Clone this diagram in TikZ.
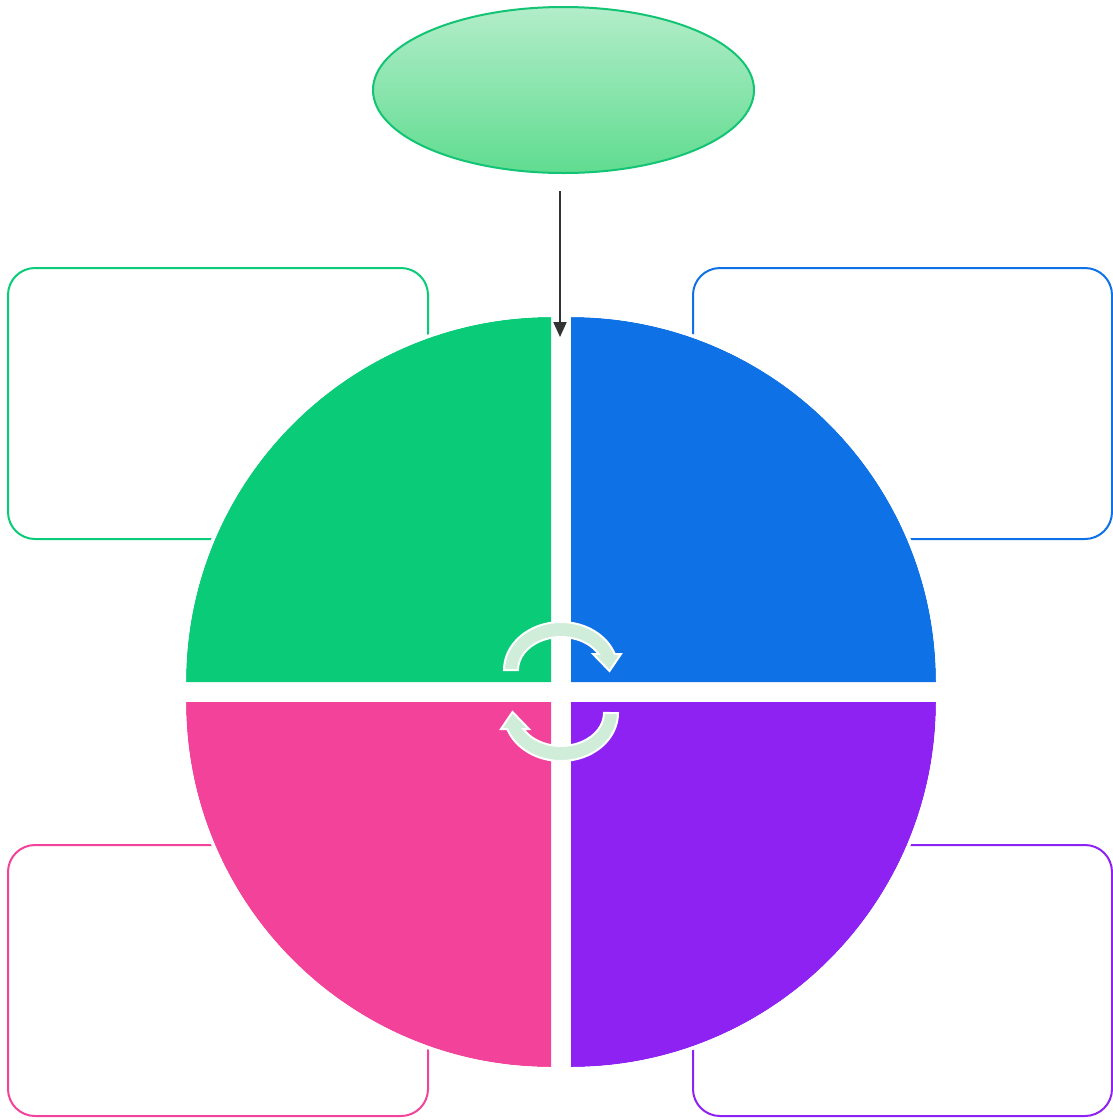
\documentclass[tikz,border=0pt]{standalone}
\usetikzlibrary{shapes.geometric,arrows.meta}
\definecolor{qgreen}{HTML}{0ACC78}
\definecolor{qblue}{HTML}{0E72E6}
\definecolor{qpink}{HTML}{F34299}
\definecolor{qpurple}{HTML}{8E22F2}
\definecolor{arrowfill}{HTML}{D0EDD9}
\definecolor{arrowgray}{HTML}{333333}
\definecolor{elltop}{HTML}{B2EDC9}
\definecolor{ellbot}{HTML}{60DC90}
\definecolor{elldraw}{HTML}{12C474}
\begin{document}
\begin{tikzpicture}[x=1pt,y=-1pt,
  infobox/.style={rectangle, rounded corners=27pt, line width=2pt, inner sep=0pt, fill=white},
  gapline/.style={draw=white, line width=3.5pt},
  circarrow/.style={fill=arrowfill, draw=white, line width=2pt, line join=miter},
  mainarrow/.style={draw=arrowgray, line width=2.2pt, -{Triangle[length=15pt,width=13pt]}}]
\useasboundingbox (0,0) rectangle (1113,1120);
\fill[white] (0,0) rectangle (1113,1120);

% boxes
\node[infobox, draw=qgreen, minimum width=420pt, minimum height=271pt] (boxG) at (218,403.5) {};
\node[infobox, draw=qblue, minimum width=419pt, minimum height=271pt] (boxB) at (902.5,403.5) {};
\node[infobox, draw=qpink, minimum width=420pt, minimum height=271pt] (boxP) at (218,980.5) {};
\node[infobox, draw=qpurple, minimum width=419pt, minimum height=271pt] (boxV) at (902.5,980.5) {};

% quadrants
\fill[qgreen] (551,682) -- (186,682) arc[start angle=180, end angle=270, radius=365] -- cycle;
\draw[gapline] (184.25,682) arc[start angle=180, end angle=270, radius=366.75];
\fill[qblue] (571,682) -- (571,317) arc[start angle=270, end angle=360, radius=365] -- cycle;
\draw[gapline] (571,315.25) arc[start angle=270, end angle=360, radius=366.75];
\fill[qpink] (551,702) -- (551,1067) arc[start angle=90, end angle=180, radius=365] -- cycle;
\draw[gapline] (551,1068.75) arc[start angle=90, end angle=180, radius=366.75];
\fill[qpurple] (571,702) -- (936,702) arc[start angle=0, end angle=90, radius=365] -- cycle;
\draw[gapline] (937.75,702) arc[start angle=0, end angle=90, radius=366.75];

% top ellipse
\node[ellipse, draw=elldraw, line width=2pt, top color=elltop, bottom color=ellbot,
      minimum width=381pt, minimum height=166pt, inner sep=0pt] (top) at (563.5,90) {};

% main arrow
\coordinate (astart) at (560,191);
\coordinate (aend) at (560,337);
\draw[mainarrow] (astart) -- (aend);

% circular arrows
\path[circarrow] (504,670) arc[start angle=180, end angle=340.53, x radius=57, y radius=48]
  -- (621,654) -- (609.5,671) -- (593,654) -- (598.6,654)
  arc[start angle=330.96, end angle=180, x radius=43, y radius=33] -- cycle;
\path[circarrow, rotate around={180:(561,691.5)}] (504,670) arc[start angle=180, end angle=340.53, x radius=57, y radius=48]
  -- (621,654) -- (609.5,671) -- (593,654) -- (598.6,654)
  arc[start angle=330.96, end angle=180, x radius=43, y radius=33] -- cycle;
\end{tikzpicture}
\end{document}
